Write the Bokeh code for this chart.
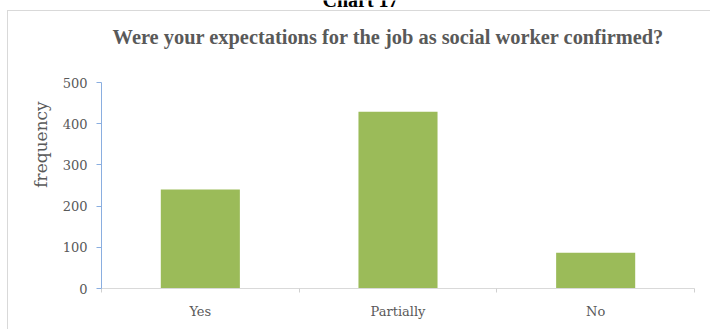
from bokeh.plotting import figure
from bokeh.models import FixedTicker, Label, Range1d
from bokeh.embed import file_html
from bokeh.resources import INLINE

categories = ["Yes", "Partially", "No"]
frequency = [240, 429, 87]
y_ticks = [0, 100, 200, 300, 400, 500]
y_max = 500

# layout (pixels)
W, H = 710, 329
LEFT, RIGHT, BOTTOM = 101, 16, 41
AXIS_TOP = 82  # pixel row of the y=500 tick
frame_h = H - BOTTOM
y_end = y_max * frame_h / (frame_h - AXIS_TOP)

centers = [i + 0.5 for i in range(len(categories))]
bounds = [i for i in range(len(categories) + 1)]

GRID = "#d9d9d9"
p = figure(width=W, height=H, output_backend="svg", toolbar_location=None,
           x_range=Range1d(0, len(categories)), y_range=Range1d(0, y_end),
           min_border_left=LEFT, min_border_right=RIGHT, min_border_top=0,
           min_border_bottom=BOTTOM,
           styles={
               "background-image": f"linear-gradient({GRID}, {GRID}), linear-gradient({GRID}, {GRID})",
               "background-size": "1px 100%, 100% 1px",
               "background-position": "7px 10px, 7px 10px",
               "background-repeat": "no-repeat",
           })
p.border_fill_alpha = 0
p.background_fill_alpha = 0
p.vbar(x=centers, top=frequency, width=0.4, fill_color="#9bbb59", line_color=None)

p.grid.visible = False
p.outline_line_color = None

GRAY = "#595959"
SERIF = "DejaVu Serif"
BLUE = "#8aaee0"

ya = p.yaxis[0]
ya.ticker = FixedTicker(ticks=y_ticks)
ya.bounds = (0, y_max)
ya.axis_line_color = BLUE
ya.major_tick_line_color = BLUE
ya.major_tick_out = 5
ya.major_tick_in = 0
ya.minor_tick_out = 0
ya.minor_tick_in = 0
ya.major_label_text_font = SERIF
ya.major_label_text_font_size = "13px"
ya.major_label_text_color = GRAY
ya.major_label_standoff = 9
ya.axis_label = "frequency"
ya.axis_label_text_font = SERIF
ya.axis_label_text_font_size = "17px"
ya.axis_label_text_font_style = "normal"
ya.axis_label_text_color = GRAY
ya.axis_label_standoff = 9

xa = p.xaxis[0]
xa.ticker = FixedTicker(ticks=centers, minor_ticks=bounds)
xa.major_label_overrides = {c: name for c, name in zip(centers, categories)}
xa.axis_line_color = GRID
xa.major_tick_out = 0
xa.major_tick_in = 0
xa.minor_tick_out = 4
xa.minor_tick_in = 0
xa.minor_tick_line_color = "#d0d0d0"
xa.major_label_text_font = SERIF
xa.major_label_text_font_size = "13px"
xa.major_label_text_color = GRAY
xa.major_label_standoff = 11

# labels in screen units are relative to the plot frame (from its bottom-left)
p.add_layout(Label(x=388 - LEFT, y=frame_h - 36, x_units="screen", y_units="screen",
                   text="Were your expectations for the job as social worker confirmed?",
                   text_font="Liberation Serif", text_font_size="20.4px",
                   text_font_style="bold", text_color=GRAY,
                   text_align="center", text_baseline="alphabetic"))

p.add_layout(Label(x=360 - LEFT, y=frame_h + 1, x_units="screen", y_units="screen",
                   text="Chart 17",
                   text_font="Liberation Serif", text_font_size="20px",
                   text_font_style="bold", text_color="#000000",
                   text_align="center", text_baseline="alphabetic"))

open("out.html", "w").write(file_html(p, INLINE))
